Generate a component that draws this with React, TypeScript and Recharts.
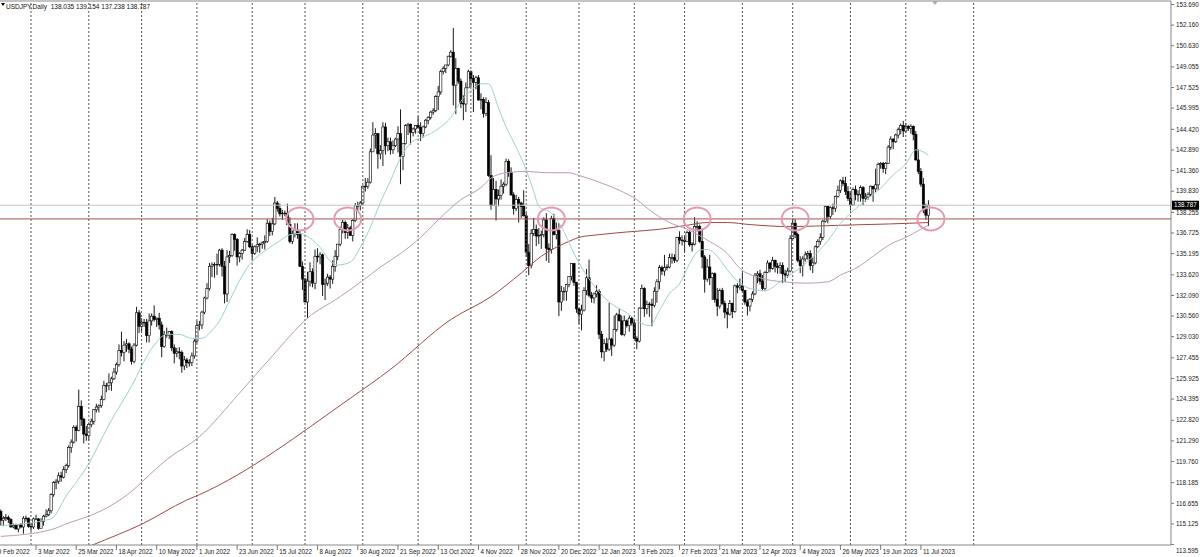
import React from "react";
import {
  ComposedChart,
  Bar,
  Line,
  XAxis,
  YAxis,
  ReferenceLine,
  ReferenceDot,
} from "recharts";

// ---- Daily candles [day, open, high, low, close] ----
const feb22 = [
  [9, 115.55, 115.75, 115.3, 115.55], [10, 115.55, 116.35, 115.0, 116.05], [11, 116.05, 116.2, 115.0, 115.4],
  [14, 115.4, 115.7, 114.95, 115.55], [15, 115.55, 115.85, 115.35, 115.6], [16, 115.6, 115.75, 115.2, 115.45],
  [17, 115.45, 115.55, 114.85, 114.9], [18, 114.9, 115.15, 114.8, 115.0], [21, 115.0, 115.15, 114.7, 114.75],
  [22, 114.75, 115.1, 114.5, 115.05], [23, 115.05, 115.2, 114.8, 114.9], [24, 114.9, 115.7, 114.4, 115.55],
  [25, 115.55, 115.75, 115.3, 115.55], [28, 115.55, 115.6, 114.85, 114.95],
];
const mar22 = [
  [1, 114.95, 115.2, 114.6, 114.9], [2, 114.9, 115.6, 114.75, 115.5], [3, 115.5, 115.8, 115.4, 115.5],
  [4, 115.5, 115.55, 114.7, 114.8], [7, 114.8, 115.55, 114.85, 115.3], [8, 115.3, 115.8, 115.0, 115.7],
  [9, 115.7, 116.2, 115.6, 115.8], [10, 115.8, 116.3, 115.7, 116.1], [11, 116.1, 117.4, 115.9, 117.3],
  [14, 117.3, 118.3, 117.15, 118.2], [15, 118.2, 118.45, 117.7, 118.3], [16, 118.3, 118.95, 118.1, 118.7],
  [17, 118.7, 119.0, 118.25, 118.6], [18, 118.6, 119.4, 118.5, 119.15], [21, 119.15, 119.6, 118.9, 119.45],
  [22, 119.45, 120.95, 119.3, 120.8], [23, 120.8, 121.4, 120.4, 121.2], [24, 121.2, 122.45, 121.1, 122.3],
  [25, 122.3, 122.45, 121.25, 122.05], [28, 122.05, 125.1, 122.0, 123.85], [29, 123.85, 124.3, 122.4, 122.9],
  [30, 122.9, 123.0, 121.1, 121.8], [31, 121.8, 122.4, 121.3, 121.7],
];
const apr22 = [
  [1, 121.7, 122.65, 121.3, 122.5], [4, 122.5, 122.95, 122.3, 122.75], [5, 122.75, 123.65, 122.5, 123.6],
  [6, 123.6, 124.05, 123.4, 123.8], [7, 123.8, 124.0, 123.4, 123.9], [8, 123.9, 124.65, 123.75, 124.35],
  [11, 124.35, 125.75, 124.3, 125.4], [12, 125.4, 125.6, 124.9, 125.4], [13, 125.4, 126.3, 125.05, 125.6],
  [14, 125.6, 126.05, 125.0, 125.9], [15, 125.9, 126.7, 125.8, 126.4], [18, 126.4, 127.1, 126.2, 126.95],
  [19, 126.95, 128.45, 126.8, 128.0], [20, 128.0, 129.4, 127.55, 127.85], [21, 127.85, 128.7, 127.2, 128.4],
  [22, 128.4, 128.85, 127.9, 128.5], [25, 128.5, 128.6, 127.8, 128.1], [26, 128.1, 128.3, 126.95, 127.2],
  [27, 127.2, 128.55, 127.05, 128.4], [28, 128.4, 131.25, 128.3, 130.8], [29, 130.8, 131.0, 129.3, 129.8],
];
const may22 = [
  [2, 129.8, 130.4, 129.4, 130.1], [3, 130.1, 130.35, 129.75, 130.1], [4, 130.1, 130.35, 128.6, 129.1],
  [5, 129.1, 130.75, 128.6, 130.2], [6, 130.2, 130.75, 129.85, 130.55], [9, 130.55, 131.35, 130.15, 130.3],
  [10, 130.3, 130.45, 129.75, 130.4], [11, 130.4, 130.8, 129.55, 129.9], [12, 129.9, 130.15, 127.5, 128.3],
  [13, 128.3, 129.45, 128.2, 129.2], [16, 129.2, 129.7, 128.95, 129.15], [17, 129.15, 129.45, 128.85, 129.4],
  [18, 129.4, 129.5, 127.95, 128.2], [19, 128.2, 128.45, 127.05, 127.8], [20, 127.8, 128.2, 127.5, 127.9],
  [23, 127.9, 128.25, 127.35, 127.85], [24, 127.85, 128.0, 126.35, 126.85], [25, 126.85, 127.6, 126.55, 127.3],
  [26, 127.3, 127.45, 126.7, 127.1], [27, 127.1, 127.35, 126.8, 127.1], [30, 127.1, 127.85, 126.85, 127.6],
  [31, 127.6, 128.85, 127.4, 128.7],
];
const jun22 = [
  [1, 128.7, 130.2, 128.55, 129.85], [2, 129.85, 130.2, 129.5, 129.9], [3, 129.9, 130.95, 129.6, 130.85],
  [6, 130.85, 132.0, 130.7, 131.9], [7, 131.9, 133.0, 131.8, 132.6], [8, 132.6, 134.5, 132.45, 134.25],
  [9, 134.25, 134.55, 133.45, 134.35], [10, 134.35, 134.55, 133.4, 134.4], [13, 134.4, 135.2, 133.6, 134.4],
  [14, 134.4, 135.55, 134.25, 135.45], [15, 135.45, 135.6, 133.5, 134.25], [16, 134.25, 134.65, 131.5, 132.2],
  [17, 132.2, 135.45, 131.6, 134.95], [20, 134.95, 135.4, 134.5, 135.05], [21, 135.05, 136.7, 134.95, 136.6],
  [22, 136.6, 136.7, 135.4, 136.25], [23, 136.25, 136.35, 134.3, 134.95], [24, 134.95, 135.3, 134.55, 135.2],
  [27, 135.2, 135.55, 134.75, 135.45], [28, 135.45, 136.35, 135.4, 136.1], [29, 136.1, 137.0, 136.0, 136.6],
  [30, 136.6, 136.95, 135.6, 135.7],
];
const jul22 = [
  [1, 135.7, 135.85, 134.75, 135.2], [4, 135.2, 135.8, 135.1, 135.7], [5, 135.7, 136.4, 135.3, 135.85],
  [6, 135.85, 136.0, 135.25, 135.9], [7, 135.9, 136.1, 135.55, 136.0], [8, 136.0, 136.55, 135.5, 136.1],
  [11, 136.1, 137.75, 136.0, 137.45], [12, 137.45, 137.65, 136.5, 136.85], [13, 136.85, 137.85, 136.55, 137.4],
  [14, 137.4, 139.4, 137.3, 138.95], [15, 138.95, 139.1, 138.3, 138.55], [18, 138.55, 138.9, 137.95, 138.15],
  [19, 138.15, 138.45, 137.7, 138.2], [20, 138.2, 138.4, 137.95, 138.2], [21, 138.2, 138.9, 137.35, 137.35],
  [22, 137.35, 137.9, 135.95, 136.1], [25, 136.1, 136.9, 135.9, 136.7], [26, 136.7, 137.45, 136.4, 136.95],
  [27, 136.95, 137.45, 136.3, 136.6], [28, 136.6, 136.9, 134.2, 134.25], [29, 134.25, 134.6, 132.5, 133.3],
];
const aug22 = [
  [1, 133.3, 133.4, 131.6, 131.6], [2, 131.6, 133.85, 130.4, 133.15], [3, 133.15, 134.55, 132.75, 133.85],
  [4, 133.85, 134.1, 132.7, 133.0], [5, 133.0, 135.5, 132.55, 135.0], [8, 135.0, 135.6, 134.55, 134.95],
  [9, 134.95, 135.3, 134.4, 135.1], [10, 135.1, 135.2, 132.05, 132.9], [11, 132.9, 133.35, 131.75, 133.0],
  [12, 133.0, 133.7, 132.8, 133.45], [15, 133.45, 133.6, 132.6, 133.3], [16, 133.3, 134.7, 132.95, 134.25],
  [17, 134.25, 135.45, 133.85, 135.0], [18, 135.0, 135.9, 134.7, 135.9], [19, 135.9, 137.2, 135.75, 137.0],
  [22, 137.0, 137.7, 136.7, 137.5], [23, 137.5, 137.65, 136.3, 136.75], [24, 136.75, 137.4, 136.3, 137.1],
  [25, 137.1, 137.25, 136.5, 136.55], [26, 136.55, 137.75, 136.1, 137.65], [29, 137.65, 138.95, 137.55, 138.75],
  [30, 138.75, 139.05, 138.35, 138.75], [31, 138.75, 139.1, 138.4, 138.95],
];
const sep22 = [
  [1, 138.95, 140.25, 138.8, 140.2], [2, 140.2, 140.8, 139.8, 140.2], [5, 140.2, 140.8, 140.0, 140.5],
  [6, 140.5, 143.0, 140.4, 142.75], [7, 142.75, 144.95, 142.75, 144.0], [8, 144.0, 144.5, 143.0, 144.1],
  [9, 144.1, 144.1, 141.5, 142.6], [12, 142.6, 143.25, 142.2, 142.85], [13, 142.85, 144.95, 141.7, 144.6],
  [14, 144.6, 144.9, 142.55, 143.2], [15, 143.2, 143.8, 142.8, 143.5], [16, 143.5, 143.8, 142.55, 142.9],
  [19, 142.9, 143.6, 142.6, 143.2], [20, 143.2, 143.8, 143.1, 143.7], [21, 143.7, 144.65, 142.7, 144.1],
  [22, 144.1, 145.9, 140.35, 142.4], [23, 142.4, 143.4, 141.4, 143.35], [26, 143.35, 144.8, 143.3, 144.7],
  [27, 144.7, 144.9, 144.0, 144.8], [28, 144.8, 144.85, 143.3, 144.2], [29, 144.2, 144.55, 143.9, 144.45],
  [30, 144.45, 144.75, 144.1, 144.7],
];
const oct22 = [
  [3, 144.7, 145.4, 144.5, 144.55], [4, 144.55, 144.95, 143.55, 144.1], [5, 144.1, 144.7, 143.8, 144.6],
  [6, 144.6, 145.2, 144.5, 145.1], [7, 145.1, 145.4, 144.8, 145.3], [10, 145.3, 145.8, 145.15, 145.7],
  [11, 145.7, 146.0, 145.5, 145.8], [12, 145.8, 146.95, 145.7, 146.85], [13, 146.85, 147.65, 145.85, 147.2],
  [14, 147.2, 148.85, 147.0, 148.7], [17, 148.7, 149.1, 148.5, 148.95], [18, 148.95, 149.2, 148.6, 149.2],
  [19, 149.2, 149.9, 149.1, 149.85], [20, 149.85, 150.3, 149.75, 150.15], [21, 150.15, 151.95, 146.2, 147.7],
  [24, 147.7, 149.7, 145.55, 148.95], [25, 148.95, 149.0, 147.8, 148.0], [26, 148.0, 148.2, 146.0, 146.35],
  [27, 146.35, 146.95, 145.1, 146.3], [28, 146.3, 147.9, 145.7, 147.5], [31, 147.5, 148.85, 147.5, 148.7],
];
const nov22 = [
  [1, 148.7, 148.8, 147.55, 148.2], [2, 148.2, 148.45, 145.7, 147.9], [3, 147.9, 148.4, 147.4, 148.25],
  [4, 148.25, 148.45, 146.55, 146.6], [7, 146.6, 147.1, 145.9, 146.65], [8, 146.65, 146.8, 145.3, 145.6],
  [9, 145.6, 146.8, 145.4, 146.4], [10, 146.4, 146.6, 140.9, 141.0], [11, 141.0, 142.5, 138.45, 138.75],
  [14, 138.75, 140.8, 138.75, 139.95], [15, 139.95, 140.6, 137.65, 139.25], [16, 139.25, 139.95, 138.7, 139.5],
  [17, 139.5, 140.7, 139.2, 140.2], [18, 140.2, 140.5, 139.65, 140.35], [21, 140.35, 142.25, 140.2, 142.05],
  [22, 142.05, 142.2, 140.9, 141.2], [23, 141.2, 141.6, 139.5, 139.55], [24, 139.55, 139.75, 138.1, 138.55],
  [25, 138.55, 139.55, 138.35, 139.2], [28, 139.2, 139.4, 137.5, 138.95], [29, 138.95, 139.05, 137.85, 138.7],
  [30, 138.7, 139.9, 137.95, 138.0],
];
const dec22 = [
  [1, 138.0, 138.2, 134.95, 135.3], [2, 135.3, 135.9, 133.6, 134.3], [5, 134.3, 137.0, 134.1, 136.7],
  [6, 136.7, 137.85, 136.5, 137.0], [7, 137.0, 137.35, 135.75, 136.5], [8, 136.5, 137.1, 135.9, 136.55],
  [9, 136.55, 136.9, 135.55, 136.6], [12, 136.6, 137.9, 136.4, 137.7], [13, 137.7, 138.2, 134.65, 135.6],
  [14, 135.6, 135.95, 134.5, 135.5], [15, 135.5, 138.0, 135.2, 137.8], [16, 137.8, 138.15, 136.55, 136.6],
  [19, 136.6, 137.5, 136.25, 136.9], [20, 136.9, 137.45, 130.55, 131.6], [21, 131.6, 132.8, 130.95, 132.4],
  [22, 132.4, 132.7, 131.7, 132.4], [23, 132.4, 132.95, 131.7, 132.9], [27, 132.9, 133.5, 132.7, 133.5],
  [28, 133.5, 134.45, 133.2, 134.45], [29, 134.45, 134.5, 132.8, 133.05], [30, 133.05, 133.1, 130.8, 131.1],
];
const jan23 = [
  [2, 131.1, 131.15, 129.95, 130.7], [3, 130.7, 131.4, 129.5, 131.0], [4, 131.0, 132.7, 130.9, 132.45],
  [5, 132.45, 134.05, 132.1, 133.4], [6, 133.4, 134.75, 131.95, 132.1], [9, 132.1, 132.35, 131.55, 131.9],
  [10, 131.9, 132.3, 131.5, 132.2], [11, 132.2, 132.85, 131.95, 132.4], [12, 132.4, 132.55, 128.85, 129.2],
  [13, 129.2, 129.45, 127.45, 127.9], [16, 127.9, 128.85, 127.2, 128.5], [17, 128.5, 128.95, 127.9, 128.1],
  [18, 128.1, 131.55, 127.95, 128.85], [19, 128.85, 128.95, 127.6, 128.4], [20, 128.4, 130.6, 128.25, 129.55],
  [23, 129.55, 130.8, 129.4, 130.65], [24, 130.65, 131.1, 130.2, 130.2], [25, 130.2, 130.6, 129.1, 129.2],
  [26, 129.2, 130.6, 129.05, 130.2], [27, 130.2, 130.3, 129.7, 129.85], [30, 129.85, 130.6, 129.4, 130.4],
  [31, 130.4, 130.5, 129.85, 130.05],
];
const feb23 = [
  [1, 130.05, 130.3, 128.9, 128.9], [2, 128.9, 129.05, 128.1, 128.7], [3, 128.7, 131.2, 128.6, 131.15],
  [6, 131.15, 132.9, 131.1, 132.6], [7, 132.6, 132.7, 130.5, 131.1], [8, 131.1, 131.7, 130.7, 131.4],
  [9, 131.4, 131.6, 130.5, 131.45], [10, 131.45, 131.85, 129.8, 131.35], [13, 131.35, 132.7, 131.2, 132.4],
  [14, 132.4, 133.3, 131.55, 133.1], [15, 133.1, 134.35, 132.55, 134.15], [16, 134.15, 134.3, 133.6, 133.9],
  [17, 133.9, 135.1, 133.55, 134.15], [20, 134.15, 134.4, 133.95, 134.2], [21, 134.2, 135.2, 134.1, 134.9],
  [22, 134.9, 135.2, 134.45, 134.9], [23, 134.9, 135.15, 134.5, 134.7], [24, 134.7, 136.45, 134.55, 136.4],
  [27, 136.4, 136.85, 135.9, 136.2], [28, 136.2, 136.55, 135.8, 136.2],
];
const mar23 = [
  [1, 136.2, 136.5, 135.25, 136.1], [2, 136.1, 136.9, 136.05, 136.75], [3, 136.75, 136.95, 135.7, 135.85],
  [6, 135.85, 136.05, 135.35, 135.9], [7, 135.9, 137.9, 135.8, 137.2], [8, 137.2, 137.6, 136.85, 137.2],
  [9, 137.2, 137.35, 136.0, 136.1], [10, 136.1, 136.95, 134.1, 134.95], [13, 134.95, 135.1, 132.3, 133.3],
  [14, 133.3, 134.8, 133.1, 134.2], [15, 134.2, 135.1, 132.85, 133.4], [16, 133.4, 133.8, 131.75, 133.7],
  [17, 133.7, 133.8, 131.55, 131.8], [20, 131.8, 132.65, 130.55, 131.3], [21, 131.3, 132.6, 131.1, 132.45],
  [22, 132.45, 132.65, 131.4, 131.5], [23, 131.5, 131.7, 130.4, 130.85], [24, 130.85, 131.15, 129.65, 130.7],
  [27, 130.7, 131.75, 130.6, 131.5], [28, 131.5, 131.55, 130.4, 130.9], [29, 130.9, 132.9, 130.8, 132.8],
  [30, 132.8, 133.0, 132.25, 132.7], [31, 132.7, 133.35, 132.5, 132.8],
];
const apr23 = [
  [3, 132.8, 133.75, 132.35, 132.45], [4, 132.45, 132.5, 131.4, 131.6], [5, 131.6, 131.8, 130.6, 131.3],
  [6, 131.3, 131.9, 130.9, 131.8], [7, 131.8, 132.4, 131.6, 132.2], [10, 132.2, 133.75, 132.1, 133.6],
  [11, 133.6, 133.9, 133.0, 133.7], [12, 133.7, 134.0, 132.9, 133.15], [13, 133.15, 133.6, 132.4, 132.6],
  [14, 132.6, 133.9, 132.4, 133.8], [17, 133.8, 134.7, 133.75, 134.5], [18, 134.5, 134.55, 133.8, 134.1],
  [19, 134.1, 134.95, 134.0, 134.7], [20, 134.7, 134.75, 133.8, 134.25], [21, 134.25, 134.5, 133.7, 134.15],
  [24, 134.15, 134.55, 133.7, 134.3], [25, 134.3, 134.55, 133.0, 133.7], [26, 133.7, 134.0, 133.1, 133.6],
  [27, 133.6, 134.15, 133.4, 133.9], [28, 133.9, 136.55, 133.8, 136.3],
];
const may23 = [
  [1, 136.3, 137.8, 136.25, 137.45], [2, 137.45, 137.75, 136.35, 136.6], [3, 136.6, 136.75, 134.55, 134.7],
  [4, 134.7, 135.0, 133.75, 134.3], [5, 134.3, 135.0, 133.5, 134.8], [8, 134.8, 135.35, 134.6, 135.1],
  [9, 135.1, 135.4, 134.75, 135.2], [10, 135.2, 135.45, 133.95, 134.3], [11, 134.3, 134.9, 133.75, 134.5],
  [12, 134.5, 135.8, 134.4, 135.7], [15, 135.7, 136.25, 135.6, 136.1], [16, 136.1, 136.7, 135.85, 136.4],
  [17, 136.4, 137.7, 136.2, 137.6], [18, 137.6, 138.75, 137.5, 138.7], [19, 138.7, 138.75, 137.45, 137.95],
  [22, 137.95, 138.7, 137.75, 138.6], [23, 138.6, 138.9, 138.05, 138.55], [24, 138.55, 139.5, 138.3, 139.45],
  [25, 139.45, 140.25, 139.35, 139.9], [26, 139.9, 140.7, 139.7, 140.6], [29, 140.6, 140.9, 140.2, 140.4],
  [30, 140.4, 140.9, 139.55, 139.8], [31, 139.8, 140.2, 139.1, 139.3],
];
const jun23 = [
  [1, 139.3, 139.7, 138.4, 138.8], [2, 138.8, 140.1, 138.75, 139.95], [5, 139.95, 140.25, 139.15, 139.6],
  [6, 139.6, 139.9, 139.05, 139.6], [7, 139.6, 140.25, 139.05, 140.1], [8, 140.1, 140.2, 138.8, 139.3],
  [9, 139.3, 139.7, 139.05, 139.4], [12, 139.4, 139.75, 139.2, 139.6], [13, 139.6, 140.25, 139.45, 140.2],
  [14, 140.2, 140.2, 139.05, 140.0], [15, 140.0, 141.5, 139.75, 140.3], [16, 140.3, 141.95, 139.9, 141.8],
  [19, 141.8, 142.0, 141.5, 141.9], [20, 141.9, 142.0, 141.2, 141.5], [21, 141.5, 142.0, 141.1, 141.9],
  [22, 141.9, 143.25, 141.85, 143.1], [23, 143.1, 143.9, 142.9, 143.7], [26, 143.7, 143.75, 142.95, 143.5],
  [27, 143.5, 144.1, 143.4, 144.0], [28, 144.0, 144.55, 143.75, 144.4], [29, 144.4, 144.85, 144.05, 144.7],
  [30, 144.7, 145.05, 143.85, 144.3],
];
const jul23 = [
  [3, 144.3, 144.9, 144.15, 144.65], [4, 144.65, 144.75, 144.3, 144.5], [5, 144.5, 144.8, 144.1, 144.65],
  [6, 144.65, 144.7, 143.6, 144.05], [7, 144.05, 144.3, 142.1, 142.15], [10, 142.15, 142.95, 141.1, 141.3],
  [11, 141.3, 141.55, 140.15, 140.35], [12, 140.35, 140.8, 138.2, 138.55], [13, 138.55, 138.9, 137.7, 138.05],
  [14, 138.035, 139.154, 137.238, 138.787],
];
const MONTHS = [feb22, mar22, apr22, may22, jun22, jul22, aug22, sep22, oct22, nov22, dec22,
  jan23, feb23, mar23, apr23, may23, jun23, jul23];

// ---- Moving averages: [bar index, value] ----
const ma20Pts = [
  [2, 115.0], [22, 115.5], [28, 117.2], [37, 119.6], [45, 122.5], [55, 125.7], [59, 127.2], [63, 128.4],
  [68, 129.2], [73, 129.2], [78, 128.9], [82, 128.9], [85, 129.3], [89, 130.2], [93, 131.7], [97, 133.2],
  [101, 134.4], [105, 135.1], [109, 135.65], [113, 136.15], [117, 136.6], [121, 136.7], [125, 136.35],
  [129, 135.65], [133, 134.65], [136, 134.35], [141, 134.55], [145, 135.65], [149, 137.15], [153, 139.0],
  [157, 140.6], [161, 142.3], [165, 143.4], [169, 143.8], [173, 144.1], [177, 144.6], [181, 145.3],
  [185, 146.5], [189, 147.3], [193, 147.8], [196, 147.8], [200, 146.0], [203, 144.6], [207, 143.1],
  [211, 141.4], [214, 139.8], [216, 138.7], [221, 138.2], [225, 137.2], [230, 135.2], [244, 131.6],
  [251, 130.8], [256, 130.1], [260, 129.85], [264, 130.95], [268, 132.25], [272, 132.95], [276, 134.45],
  [280, 135.45], [283, 135.5], [287, 135.0], [291, 134.0], [296, 133.0], [300, 132.6], [306, 132.45],
  [313, 133.25], [320, 134.15], [325, 134.95], [331, 136.15], [336, 137.45], [341, 138.35], [346, 139.15],
  [352, 140.05], [357, 141.05], [362, 141.85], [366, 142.9], [369, 142.75], [371, 142.5],
];
const ma100Pts = [
  [2, 114.2], [22, 114.7], [29, 115.2], [37, 115.7], [45, 116.4], [55, 117.7], [59, 118.4], [68, 119.9],
  [81, 121.6], [97, 124.85], [110, 127.6], [124, 130.4], [137, 132.0], [146, 133.2], [153, 134.2],
  [161, 135.2], [169, 136.4], [176, 137.7], [185, 139.2], [193, 140.1], [197, 140.8], [203, 141.2],
  [211, 141.3], [219, 141.2], [228, 141.2], [232, 141.0], [240, 140.5], [248, 139.9], [255, 139.2],
  [261, 138.3], [268, 137.5], [275, 137.0], [283, 136.2], [291, 135.2], [296, 134.1], [304, 133.4],
  [313, 133.1], [323, 133.0], [331, 133.1], [336, 133.6], [343, 134.2], [349, 135.0], [356, 135.9],
  [362, 136.4], [368, 137.0], [371, 137.3],
];
const ma200Pts = [
  [2, 110.8], [39, 113.6], [58, 115.1], [76, 116.9], [81, 117.3], [141, 124.45], [157, 126.6],
  [181, 130.3], [197, 132.0], [209, 133.75], [217, 135.0], [228, 136.1], [232, 136.4], [240, 136.6],
  [251, 136.8], [264, 137.0], [275, 137.3], [283, 137.5], [291, 137.5], [300, 137.35], [316, 137.2],
  [336, 137.3], [356, 137.4], [371, 137.5],
];

// ---- Axis labels and annotations ----
const xTickLabels = [
  "9 Feb 2022", "3 Mar 2022", "25 Mar 2022", "18 Apr 2022", "10 May 2022", "1 Jun 2022", "23 Jun 2022",
  "15 Jul 2022", "8 Aug 2022", "30 Aug 2022", "21 Sep 2022", "13 Oct 2022", "4 Nov 2022", "28 Nov 2022",
  "20 Dec 2022", "12 Jan 2023", "3 Feb 2023", "27 Feb 2023", "21 Mar 2023", "12 Apr 2023", "4 May 2023",
  "26 May 2023", "19 Jun 2023", "11 Jul 2023",
];
const X_LABEL_STEP = 16;
const yTicks = [
  153.69, 152.16, 150.63, 149.055, 147.525, 145.995, 144.42, 142.89, 141.36, 139.83, 138.255, 136.725,
  135.195, 133.62, 132.09, 130.56, 129.03, 127.455, 125.925, 124.395, 122.82, 121.29, 119.76, 118.185,
  116.655, 115.125, 113.595,
];
const Y_MIN = 113.56;
const Y_MAX = 153.95;
const TOTAL_SLOTS = 468;
const FUTURE_SEPARATORS = [389];
const currentPrice = 138.787;
const supportLevel = 137.77;
const circleIdx = [121, 140, 221, 279, 318, 372];
const titleText = "USDJPY,Daily  138.035 139.154 137.238 138.787";

// ---- Build rows ----
type Row = { i: number; o?: number; h?: number; l?: number; c?: number; ma20?: number; ma100?: number; ma200?: number };
const rows: Row[] = [];
const monthStarts: number[] = [];
MONTHS.forEach((m, mi) => {
  m.forEach((b, bi) => {
    if (bi === 0 && mi > 0) monthStarts.push(rows.length);
    rows.push({ i: rows.length, o: b[1], h: b[2], l: b[3], c: b[4] });
  });
});
while (rows.length < TOTAL_SLOTS) rows.push({ i: rows.length });
ma20Pts.forEach(([i, v]) => (rows[i].ma20 = v));
ma100Pts.forEach(([i, v]) => (rows[i].ma100 = v));
ma200Pts.forEach(([i, v]) => (rows[i].ma200 = v));
const separators = [...monthStarts, ...FUTURE_SEPARATORS];

const labelMap: Record<number, string> = {};
xTickLabels.forEach((t, k) => (labelMap[k * X_LABEL_STEP] = t));

const FONT = "'Liberation Sans', Arial, sans-serif";

const Candle = (props: any) => {
  const { x, y, width, height, payload } = props;
  if (!payload || payload.c == null) return null;
  const { o, h, l, c } = payload;
  const cx = x + width / 2;
  const range = h - l || 1e-6;
  const yFor = (v: number) => y + ((h - v) / range) * height;
  const top = yFor(Math.max(o, c));
  const bot = yFor(Math.min(o, c));
  const bull = c >= o;
  return (
    <g>
      <line x1={cx} x2={cx} y1={y} y2={y + height} stroke="#000" strokeWidth={0.9} />
      <rect
        x={cx - 1.15}
        y={top}
        width={2.3}
        height={Math.max(bot - top, 0.7)}
        fill={bull ? "#ffffff" : "#000"}
        stroke="#000"
        strokeWidth={0.6}
      />
    </g>
  );
};

const XTick = (props: any) => {
  const { x, y, payload } = props;
  const label = labelMap[payload.value];
  if (label === undefined) return <g />;
  return (
    <g>
      <line x1={x} x2={x} y1={y} y2={y + 5} stroke="#777" strokeWidth={1} />
      <text x={x + 2} y={y + 9} fontSize={6.3} fontFamily={FONT} fill="#222">
        {label}
      </text>
    </g>
  );
};

const YTick = (props: any) => {
  const { x, y, payload } = props;
  const last = payload.value === 113.595;
  return (
    <g>
      <line x1={x - 3} x2={x} y1={y} y2={y} stroke="#777" strokeWidth={1} />
      <text x={x + 2} y={y + (last ? 8 : 2.2)} fontSize={6.3} fontFamily={FONT} fill="#222">
        {payload.value.toFixed(3)}
      </text>
    </g>
  );
};

const PriceTag = (props: any) => {
  const vb = props.viewBox || {};
  const px = (vb.x || 0) + (vb.width || 0) + 1;
  const py = vb.y || 0;
  return (
    <g>
      <rect x={px} y={py - 4.5} width={27} height={9} fill="#000" />
      <text x={px + 2} y={py + 2.2} fontSize={6.3} fontFamily={FONT} fill="#fff">
        {currentPrice.toFixed(3)}
      </text>
    </g>
  );
};

const Ellipse = (props: any) => {
  const { cx, cy } = props;
  if (cx == null || cy == null) return <g />;
  return <ellipse cx={cx} cy={cy} rx={13.5} ry={11.5} fill="none" stroke="#e699b6" strokeWidth={2} />;
};

export default function App() {
  return (
    <div style={{ position: "absolute", left: -6, top: 0, width: 1206, height: 557, background: "#fff" }}>
      <ComposedChart
        width={1206}
        height={557}
        data={rows}
        margin={{ top: 1, right: 0, bottom: 0, left: 0.54 }}
        barCategoryGap="10%"
      >
        <XAxis
          dataKey="i"
          type="category"
          height={12}
          interval={0}
          tickLine={false}
          tickSize={0}
          tickMargin={0}
          axisLine={{ stroke: "#888" }}
          tick={<XTick />}
        />
        <YAxis
          orientation="right"
          width={29}
          type="number"
          domain={[Y_MIN, Y_MAX]}
          allowDataOverflow
          ticks={yTicks}
          interval={0}
          tickLine={false}
          tickSize={3}
          tickMargin={0}
          axisLine={{ stroke: "#888" }}
          tick={<YTick />}
        />
        {separators.map((s) => (
          <ReferenceLine key={"sep" + s} x={s} stroke="#555" strokeDasharray="2 2" strokeWidth={1} ifOverflow="extendDomain" />
        ))}
        <ReferenceLine y={Y_MAX} stroke="#888" strokeWidth={1} />
        <ReferenceLine y={currentPrice} stroke="#c4c4c4" strokeWidth={1} label={(p: any) => <PriceTag {...p} />} />
        <ReferenceLine y={supportLevel} stroke="#a9504e" strokeWidth={1} />
        <Line dataKey="ma200" stroke="#a04848" strokeWidth={1} dot={false} connectNulls type="monotone" isAnimationActive={false} />
        <Line dataKey="ma100" stroke="#b99cb9" strokeWidth={1} dot={false} connectNulls type="monotone" isAnimationActive={false} />
        <Line dataKey="ma20" stroke="#9fcfd0" strokeWidth={1} dot={false} connectNulls type="monotone" isAnimationActive={false} />
        <Bar
          dataKey={(d: Row) => (d.c == null ? null : [d.l, d.h])}
          shape={<Candle />}
          isAnimationActive={false}
        />
        {circleIdx.map((ci) => (
          <ReferenceDot key={"c" + ci} x={ci} y={supportLevel} r={12} shape={<Ellipse />} ifOverflow="visible" />
        ))}
      </ComposedChart>
      <div
        style={{
          position: "absolute",
          left: 7,
          top: 3,
          width: 0,
          height: 0,
          borderLeft: "2.5px solid transparent",
          borderRight: "2.5px solid transparent",
          borderTop: "3px solid #000",
        }}
      />
      <div
        style={{
          position: "absolute",
          left: 12,
          top: 2,
          fontFamily: FONT,
          fontSize: "6.5px",
          lineHeight: "9px",
          color: "#111",
          whiteSpace: "pre",
        }}
      >
        {titleText}
      </div>
      <div
        style={{
          position: "absolute",
          left: 938,
          top: 1,
          width: 0,
          height: 0,
          borderLeft: "3.5px solid transparent",
          borderRight: "3.5px solid transparent",
          borderTop: "4px solid #aaa",
        }}
      />
    </div>
  );
}
